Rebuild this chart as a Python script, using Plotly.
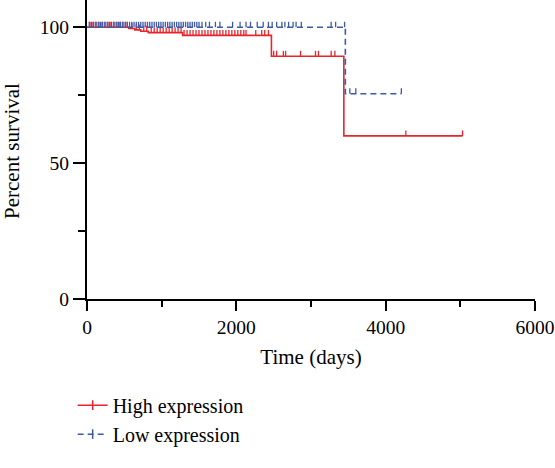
import plotly.graph_objects as go

# ---- data ----
high_event_times = [0, 560, 640, 720, 820, 1280, 2470, 3440]
high_event_surv = [100, 99.5, 99.0, 98.5, 98.0, 97.0, 89.3, 60.0]
high_end_time = 5030

high_censor_times = [40, 80, 120, 160, 200, 240, 280, 320, 360, 400, 440, 480, 520, 600,
                     660, 700, 760, 800, 860, 900, 940, 980, 1020, 1060, 1100, 1140, 1180,
                     1220, 1260, 1300, 1340, 1380, 1420, 1460, 1500, 1540, 1580, 1620, 1660,
                     1700, 1740, 1780, 1820, 1860, 1900, 1940, 1980, 2020, 2060, 2100, 2130,
                     2260, 2340, 2380, 2430, 2500, 2540, 2630, 2660, 2860, 3060, 3100, 3270,
                     3320, 4270, 5030]

low_event_times = [0, 3460]
low_event_surv = [100, 75.5]
low_end_time = 4210

low_censor_times = [30, 60, 90, 120, 150, 180, 210, 240, 270, 300, 330, 360, 390, 420, 450,
                    480, 510, 540, 570, 600, 630, 660, 690, 720, 750, 780, 810, 840, 870,
                    900, 930, 960, 990, 1020, 1050, 1080, 1110, 1140, 1170, 1200, 1230,
                    1260, 1290, 1320, 1350, 1380, 1410, 1440, 1470, 1500, 1540, 1590, 1640,
                    1720, 1780, 1950, 2050, 2130, 2190, 2280, 2360, 2430, 2480, 2540, 2610,
                    2650, 2700, 2760, 2800, 2870, 3270, 3330, 3450, 3520, 3600, 4210]

series_names = ["High expression", "Low expression"]
x_ticks = [0, 2000, 4000, 6000]
y_ticks = [0, 50, 100]
x_title = "Time (days)"
y_title = "Percent survival"

RED = "#e8252c"
BLUE = "#3d5aa8"
FONT = "Liberation Serif"
TICK_H = 2.0

W, H = 555, 468
ML, MR, MT, MB = 87, 20, 0, 169
PW, PH = W - ML - MR, H - MT - MB


def surv_at(t, times, surv):
    s = surv[0]
    for tt, ss in zip(times, surv):
        if tt <= t:
            s = ss
    return s


def censor_segments(ctimes, times, surv):
    xs, ys = [], []
    for t in ctimes:
        s = surv_at(t, times, surv)
        xs += [t, t, None]
        ys += [s, s + TICK_H, None]
    return xs, ys


fig = go.Figure()

for name, times, surv, end, ctimes, color, dash in [
    (series_names[0], high_event_times, high_event_surv, high_end_time, high_censor_times, RED, "solid"),
    (series_names[1], low_event_times, low_event_surv, low_end_time, low_censor_times, BLUE, "6px,4px"),
]:
    x = list(times) + [end]
    y = list(surv) + [surv[-1]]
    fig.add_trace(go.Scatter(x=x, y=y, mode="lines", line=dict(color=color, width=1.6, dash=dash, shape="hv"),
                             showlegend=False, hoverinfo="skip"))
    cx, cy = censor_segments(ctimes, times, surv)
    fig.add_trace(go.Scatter(x=cx, y=cy, mode="lines", line=dict(color=color, width=1.3),
                             showlegend=False, hoverinfo="skip"))
    fig.add_trace(go.Scatter(x=[None], y=[None], mode="lines+markers", name=name,
                             line=dict(color=color, width=1.6, dash=dash),
                             marker=dict(symbol="line-ns-open", size=7, color=color,
                                         line=dict(color=color, width=1.5))))

axis_common = dict(showgrid=False, zeroline=False, showline=True, linecolor="black", linewidth=2,
                   ticks="outside", tickwidth=2, tickcolor="black", automargin=False,
                   ticklabeloverflow="allow",
                   tickfont=dict(family=FONT, size=19.5, color="black"))

fig.update_xaxes(range=[0, 6000], tickvals=x_ticks, ticktext=[str(v) for v in x_ticks], ticklen=10,
                 minor=dict(tickvals=[1000, 3000, 5000], ticklen=6, tickwidth=2, tickcolor="black", ticks="outside"),
                 title=dict(text=x_title, font=dict(family=FONT, size=21, color="black"), standoff=12),
                 **axis_common)
fig.update_yaxes(range=[0, 110], tickvals=y_ticks, ticktext=[str(v) for v in y_ticks], ticklen=12,
                 minor=dict(tickvals=[25, 75], ticklen=7, tickwidth=2, tickcolor="black", ticks="outside"),
                 **axis_common)

fig.add_annotation(text=y_title, xref="paper", yref="paper", x=-(ML - 12) / PW, y=(PH - 151) / PH,
                   xanchor="center", yanchor="middle", textangle=-90, showarrow=False,
                   font=dict(family=FONT, size=21, color="black"))

fig.update_layout(
    width=W, height=H,
    margin=dict(l=ML, r=MR, t=MT, b=MB),
    paper_bgcolor="white", plot_bgcolor="white",
    font=dict(family=FONT, size=21, color="black"),
    legend=dict(x=-0.032, y=-0.29, xanchor="left", yanchor="top", bgcolor="rgba(0,0,0,0)",
                font=dict(family=FONT, size=20, color="black"), itemwidth=30, tracegroupgap=0),
)

fig.write_html("out.html", config={"displayModeBar": False},
               post_script="document.body.style.margin='0';document.body.style.overflow='hidden';")
